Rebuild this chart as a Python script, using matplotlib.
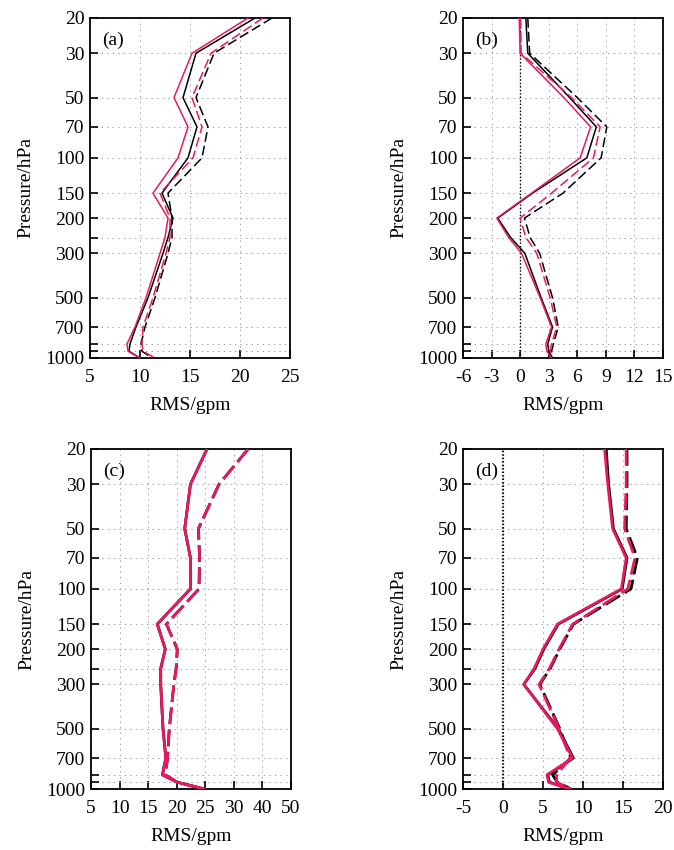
import numpy as np
import matplotlib
matplotlib.use("Agg")
import matplotlib.pyplot as plt

plt.rcParams["font.family"] = ["Liberation Serif", "DejaVu Serif"]
plt.rcParams["lines.scale_dashes"] = False

# pressure levels (hPa), top to bottom
LEVELS = [20, 30, 50, 70, 100, 150, 200, 250, 300, 500, 700, 850, 925, 1000]
YTICKS = [20, 30, 50, 70, 100, 150, 200, 250, 300, 500, 700, 850, 925, 1000]
YLABELED = [20, 30, 50, 70, 100, 150, 200, 300, 500, 700, 1000]

# panel (a)
a_black = [21.5, 15.6, 14.3, 15.7, 14.8, 12.2, 13.3, 12.8, 12.3, 10.8, 9.6, 9.0, 8.9, 10.0]
a_red = [20.8, 15.2, 13.4, 14.8, 13.8, 11.3, 12.8, 12.5, 12.0, 10.6, 9.5, 8.7, 8.8, 10.0]
a_black_d = [23.2, 17.4, 15.6, 16.8, 16.2, 12.8, 13.2, 13.2, 12.8, 11.5, 10.5, 10.1, 10.2, 11.2]
a_red_d = [22.3, 17.1, 15.2, 16.2, 15.3, 12.0, 13.0, 13.0, 12.6, 11.3, 10.3, 10.2, 10.3, 11.5]

# panel (b)
b_black = [0.6, 0.8, 5.2, 8.0, 7.0, 1.3, -2.35, -1.0, 0.5, 2.2, 3.4, 2.9, 3.0, 3.4]
b_red = [-0.1, 0.0, 4.6, 7.4, 6.3, 1.2, -2.45, -1.2, 0.15, 2.1, 3.3, 2.7, 2.8, 3.3]
b_black_d = [0.8, 1.0, 6.0, 9.1, 8.5, 4.5, 0.45, 1.05, 2.05, 3.4, 4.0, 3.5, 3.3, 3.3]
b_red_d = [0.05, 0.1, 5.4, 8.4, 7.7, 3.3, 0.0, 0.6, 1.75, 3.15, 3.85, 3.3, 3.15, 3.15]

# panel (c)
c_black = [25.3, 22.4, 21.4, 22.4, 22.4, 16.6, 18.0, 17.2, 17.2, 17.6, 18.1, 17.5, 20.1, 24.8]
c_red = [25.3, 22.4, 21.4, 22.4, 22.4, 16.6, 18.0, 17.2, 17.2, 17.6, 18.1, 17.5, 20.1, 24.8]
c_black_d = [35.0, 27.4, 23.8, 24.0, 23.9, 18.2, 20.1, 19.9, 19.5, 18.7, 18.4, 18.0, 20.1, 24.8]
c_red_d = [35.0, 27.4, 23.8, 24.0, 23.9, 18.2, 20.1, 19.9, 19.5, 18.7, 18.4, 18.0, 20.1, 24.8]
C_TICKS = [5, 10, 15, 20, 25, 30, 40, 50]

# panel (d)
d_black = [12.9, 13.2, 13.8, 15.5, 14.9, 6.9, 5.1, 4.0, 2.6, 6.9, 8.8, 5.6, 5.8, 8.3]
d_red = [12.7, 13.1, 13.7, 15.4, 14.8, 6.8, 5.0, 3.9, 2.6, 6.8, 8.7, 5.5, 5.7, 8.4]
d_black_d = [15.5, 15.5, 15.4, 16.8, 16.0, 8.8, 7.1, 5.9, 4.6, 7.1, 8.5, 6.2, 6.8, 8.5]
d_red_d = [15.4, 15.4, 15.2, 16.5, 15.6, 8.7, 7.0, 5.8, 4.5, 7.0, 8.4, 6.7, 6.7, 8.5]

RED = "#e8195f"
FS = 14

fig = plt.figure(figsize=(6.74, 8.5), dpi=100)

W = 200 / 674
H = 340 / 850
panels = [
    ("(a)", [90 / 674, 1 - 358 / 850, W, H], (a_black, a_red, a_black_d, a_red_d), (5, 25), [5, 10, 15, 20, 25], 1.1, (7, 3)),
    ("(b)", [463 / 674, 1 - 358 / 850, W, H], (b_black, b_red, b_black_d, b_red_d), (-6, 15), [-6, -3, 0, 3, 6, 9, 12, 15], 1.1, (7, 3)),
    ("(c)", [91 / 674, 1 - 789 / 850, W, H], (c_black, c_red, c_black_d, c_red_d), (5, 50), C_TICKS, 2.0, (12, 4)),
    ("(d)", [463 / 674, 1 - 789 / 850, W, H], (d_black, d_red, d_black_d, d_red_d), (-5, 20), [-5, 0, 5, 10, 15, 20], 2.0, (12, 4)),
]

c_pos = np.arange(len(C_TICKS), dtype=float)


def c_fwd(x):
    return np.interp(x, C_TICKS, c_pos)


def c_inv(x):
    return np.interp(x, c_pos, C_TICKS)


for label, rect, series, xlim, xticks, lw, dash in panels:
    ax = fig.add_axes(rect)
    ax.set_yscale("log")
    if label == "(c)":
        ax.set_xscale("function", functions=(c_fwd, c_inv))
    black, red, black_d, red_d = series
    ax.plot(black, LEVELS, color="black", lw=lw, zorder=3)
    ax.plot(red, LEVELS, color=RED, lw=lw, zorder=4)
    ax.plot(black_d, LEVELS, color="black", lw=lw, dashes=dash, zorder=3)
    ax.plot(red_d, LEVELS, color=RED, lw=lw, dashes=dash, zorder=4)
    if xlim[0] < 0:
        ax.axvline(0, color="black", lw=1.0 if label == "(b)" else 1.6,
                   linestyle=(0, (1, 1.5)), zorder=2)

    ax.set_ylim(1000, 20)
    ax.set_xlim(*xlim)
    ax.set_yticks(YTICKS)
    ax.set_yticklabels([str(v) if v in YLABELED else "" for v in YTICKS])
    ax.set_xticks(xticks)
    ax.set_xticklabels([f"{v}" for v in xticks])
    ax.minorticks_off()
    ax.tick_params(direction="in", length=6, width=1.2, labelsize=FS,
                   top=False, right=False)
    ax.tick_params(axis="x", pad=8)
    ax.tick_params(axis="y", pad=4)
    ax.grid(True, which="major", linestyle=(0, (1, 3)), color="#a0a0a0", lw=0.7)
    for s in ax.spines.values():
        s.set_linewidth(1.3)
    ax.set_xlabel("RMS/gpm", fontsize=FS, labelpad=8)
    ax.set_ylabel("Pressure/hPa", fontsize=FS, labelpad=8)
    ax.text(0.06, 0.935, label, transform=ax.transAxes, fontsize=FS,
            ha="left", va="center", zorder=5)

fig.savefig("out.png", dpi=100)
